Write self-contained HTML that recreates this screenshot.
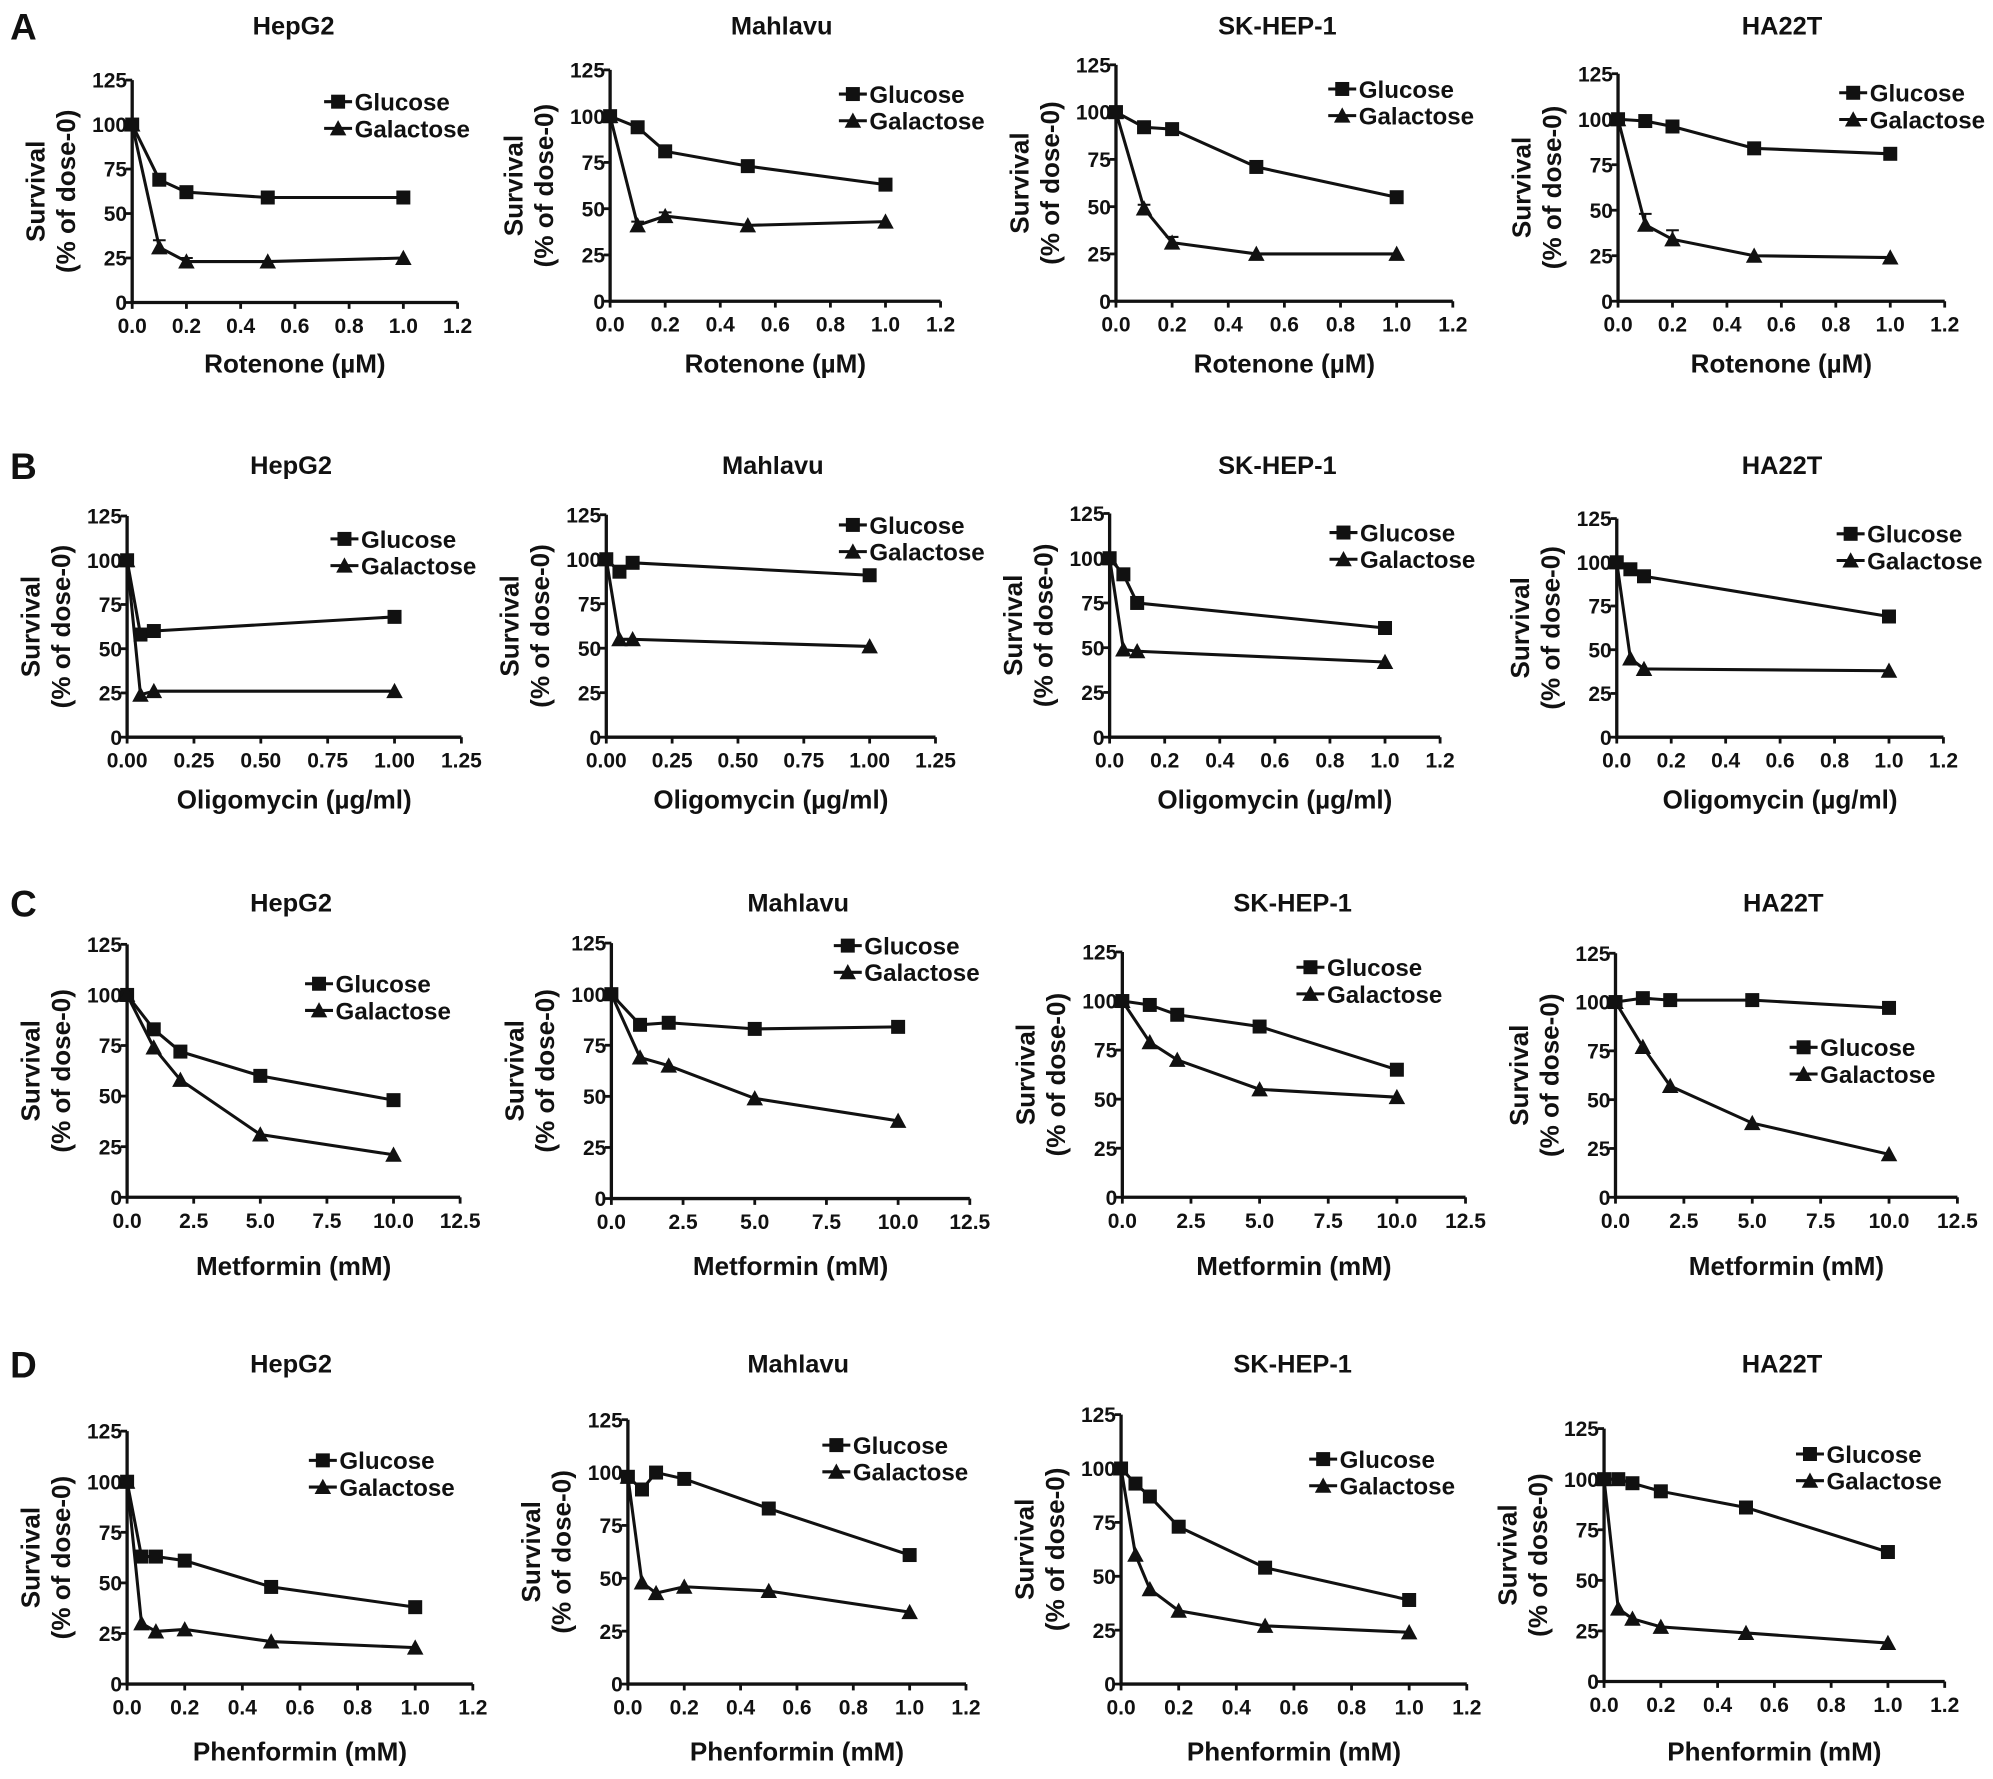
<!DOCTYPE html>
<html><head><meta charset="utf-8"><style>
html,body{margin:0;padding:0;background:#fff;}
svg{display:block;}
text{font-family:"Liberation Sans",sans-serif;font-weight:bold;fill:#111;}
.tick{font-family:"Liberation Sans Narrow","Liberation Sans",sans-serif;font-size:16.5px;}
</style></head><body>
<svg id="fig" width="1993" height="1779" viewBox="0 0 1568 1399.7" preserveAspectRatio="none" xmlns="http://www.w3.org/2000/svg"></svg>
<script>
const cellLines = ["HepG2","Mahlavu","SK-HEP-1","HA22T"];
const rowLetters = ["A","B","C","D"];
const drugLabels = ["Rotenone (\u00b5M)","Oligomycin (\u00b5g/ml)","Metformin (mM)","Phenformin (mM)"];
const dosesA = [0,0.1,0.2,0.5,1];
const dosesB = [0,0.05,0.1,1];
const dosesC = [0,1,2,5,10];
const dosesD = [0,0.05,0.1,0.2,0.5,1];
const xTicks12 = ["0.0","0.2","0.4","0.6","0.8","1.0","1.2"];
const xTicks125 = ["0.00","0.25","0.50","0.75","1.00","1.25"];
const xTicksMet = ["0.0","2.5","5.0","7.5","10.0","12.5"];
const yTicks = [0,25,50,75,100,125];
const glcA = [[100,69,62,59,59],[100,94,81,73,63],[100,92,91,71,55],[100,99,96,84,81]];
const galA = [[100,31,23,23,25],[100,41,46,41,43],[100,49,31,25,25],[100,42,34,25,24]];
const glcB = [[100,58,60,68],[100,93,98,91],[100,91,75,61],[100,96,92,69]];
const galB = [[100,24,26,26],[100,55,55,51],[100,49,48,42],[100,45,39,38]];
const glcC = [[100,83,72,60,48],[100,85,86,83,84],[100,98,93,87,65],[100,102,101,101,97]];
const galC = [[100,74,58,31,21],[100,69,65,49,38],[100,79,70,55,51],[100,77,57,38,22]];
const glcD = [[100,63,63,61,48,38],[98,92,100,97,83,61],[100,93,87,73,54,39],[100,100,98,94,86,64]];
const galD = [[100,30,26,27,21,18],[98,48,43,46,44,34],[100,60,44,34,27,24],[100,36,31,27,24,19]];
const errGalA = [[0,4,2,0,0],[0,2,2,0,0],[0,2,3,0,0],[0,6,5,0,0]];

const layout = [
 [[104,360,63,238,255,80,231],[480,740,55,237,660,74,615],[878,1143,51,237,1045,70,1005],[1273,1530,58,237,1447,73,1402]],
 [[100,363,406,580,260,424,229],[477,736,405,580,660,413,608],[873,1133,404,580,1046,419,1005],[1272,1529,408,580,1445,420,1402]],
 [[100,362,743,942,240,774,229],[481,763,742,943,656,744,628],[883,1153,749,942,1020,761,1017],[1271,1540,750,942,1408,824,1403]],
 [[100,372,1126,1325,243,1149,229],[494,760,1117,1325,647,1137,628],[882,1154,1113,1325,1030,1148,1017],[1262,1530,1124,1323,1413,1144,1402]]];
const titleY = [20,366,710,1073];
const xlabelY = [293,636,1003,1385];
const rows = [
 {doses:dosesA, glc:glcA, gal:galA, ticks:[xTicks12,xTicks12,xTicks12,xTicks12], xmax:[1.2,1.2,1.2,1.2]},
 {doses:dosesB, glc:glcB, gal:galB, ticks:[xTicks125,xTicks125,xTicks12,xTicks12], xmax:[1.25,1.25,1.2,1.2]},
 {doses:dosesC, glc:glcC, gal:galC, ticks:[xTicksMet,xTicksMet,xTicksMet,xTicksMet], xmax:[12.5,12.5,12.5,12.5]},
 {doses:dosesD, glc:glcD, gal:galD, ticks:[xTicks12,xTicks12,xTicks12,xTicks12], xmax:[1.2,1.2,1.2,1.2]}];

const NS="http://www.w3.org/2000/svg";
const svg=document.getElementById('fig');
function mk(tag,attrs,parent){const e=document.createElementNS(NS,tag);for(const k in attrs)e.setAttribute(k,attrs[k]);(parent||svg).appendChild(e);return e;}
function txt(s,attrs,parent){const t=mk('text',attrs,parent);t.textContent=s;return t;}
function sq(g,x,y){return mk('rect',{x:x-5.5,y:y-5.5,width:11,height:11,fill:'#111'},g);}
function tri(g,x,y){return mk('polygon',{points:`${x},${y-6.5} ${x-6.5},${y+5.5} ${x+6.5},${y+5.5}`,fill:'#111'},g);}

rowLetters.forEach((L,r)=>{
  const t=txt(L,{x:8,y:titleY[r]+11,'font-size':29});
  
  
});

rows.forEach((row,r)=>{
  cellLines.forEach((cl,c)=>{
    const [x0,x1,yt,yb,lx,ly,tx]=layout[r][c];
    const g=mk('g',{});
    
    
    const xmax=row.xmax[c];
    const sx=v=>x0+(v/xmax)*(x1-x0);
    const sy=v=>yb-(v/125)*(yb-yt);
    const tt=txt(cl,{x:tx,y:titleY[r]+7,'font-size':20,'text-anchor':'middle'},g);
    
    
    const ax=mk('path',{d:`M${x0},${yt} V${yb} H${x1}`,stroke:'#111','stroke-width':2.6,fill:'none'},g);
    
    
    yTicks.forEach(v=>{
      mk('line',{x1:x0-5,x2:x0,y1:sy(v),y2:sy(v),stroke:'#111','stroke-width':2.2},g);
      const l=txt(String(v),{x:x0-4,y:sy(v)+6,'text-anchor':'end',class:'tick'},g);
      
      
    });
    const tk=row.ticks[c];
    tk.forEach((s,i)=>{
      const v=i*xmax/(tk.length-1);
      mk('line',{x1:sx(v),x2:sx(v),y1:yb,y2:yb+5,stroke:'#111','stroke-width':2.2},g);
      const l=txt(s,{x:sx(v),y:yb+24,'text-anchor':'middle',class:'tick'},g);
      
      
    });
    const xl=txt(drugLabels[r],{x:(x0+x1)/2,y:xlabelY[r],'font-size':20.5,'text-anchor':'middle'},g);
    
    
    const ym=(yt+yb)/2;
    const y1=txt('Survival',{x:0,y:0,'font-size':20.5,'text-anchor':'middle',transform:`translate(${x0-69},${ym}) rotate(-90)`},g);
    
    
    const y2=txt('(% of dose-0)',{x:0,y:0,'font-size':20.5,'text-anchor':'middle',transform:`translate(${x0-45},${ym}) rotate(-90)`},g);
    
    
    const d=row.doses;
    [['glucose',row.glc[c],sq],['galactose',row.gal[c],tri]].forEach(([nm,vals,mark])=>{
      const sg=mk('g',{},g);
      
      
      mk('polyline',{points:vals.map((v,i)=>sx(d[i])+','+sy(v)).join(' '),fill:'none',stroke:'#111','stroke-width':2.4},sg);
      vals.forEach((v,i)=>{
        if(r===0&&nm==='galactose'){
          const e=errGalA[c][i];
          if(e>0){mk('path',{d:`M${sx(d[i])},${sy(v)} V${sy(v+e)} M${sx(d[i])-5},${sy(v+e)} H${sx(d[i])+5}`,stroke:'#111','stroke-width':1.6},sg);}
        }
        const m=mark(sg,sx(d[i]),sy(v));
        
        
      });
    });
    const lg=mk('g',{},g);
    
    
    [['Glucose',sq,0],['Galactose',tri,21]].forEach(([s,mark,dy])=>{
      mk('line',{x1:lx,x2:lx+22,y1:ly+dy,y2:ly+dy,stroke:'#111','stroke-width':2.4},lg);
      mark(lg,lx+11,ly+dy);
      const l=txt(s,{x:lx+24,y:ly+dy+7,'font-size':19},lg);
      
      
    });
  });
});
</script>
</body></html>
